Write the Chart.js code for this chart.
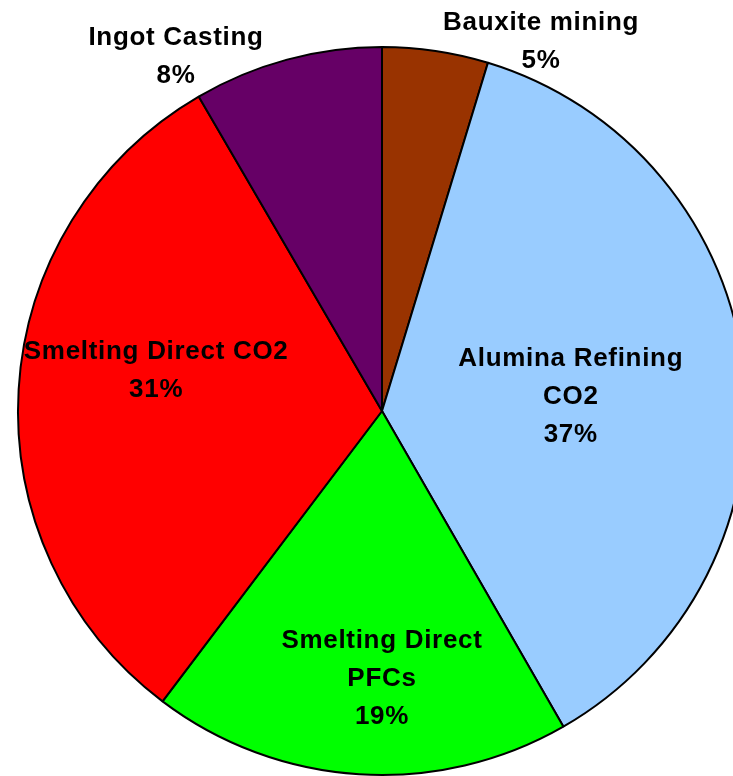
<!DOCTYPE html>
<html>
<head>
<meta charset="utf-8">
<script src="https://cdn.jsdelivr.net/npm/chart.js@4/dist/chart.umd.min.js"></script>
<style>
	html, body { margin: 0; padding: 0; background: #fff; overflow: hidden; width: 733px; height: 776px; }
	#wrap { position: absolute; left: 0; top: 0; width: 764px; height: 822px; }
</style>
</head>
<body>
<div id="wrap"><canvas id="pie"></canvas></div>
<script>
// slices, clockwise from 12 o'clock
const categories	= [ "Bauxite mining", "Alumina Refining\nCO2", "Smelting Direct\nPFCs", "Smelting Direct CO2", "Ingot Casting" ];
const shares		= [ 4.7, 37.0, 18.6, 31.3, 8.4 ];
const colours		= [ "#993300", "#99CCFF", "#00FF00", "#FF0000", "#660066" ];

// where each label sits: angle (deg from top, clockwise) and distance as part of radius
const labelAt	= [
	{ a: 23.3,  r: 1.105 },
	{ a: 85.8,  r: 0.52 },
	{ a: 180.0, r: 0.735 },
	{ a: 280.0, r: 0.63 },
	{ a: 329.8, r: 1.125 }
];

const pieLabels = {
	id: "pieLabels",
	afterDatasetsDraw( chart ) {
		const ctx	= chart.ctx;
		const meta	= chart.getDatasetMeta( 0 );
		const ds	= chart.data.datasets[ 0 ].data;
		const total	= ds.reduce( ( s, v ) => s + v, 0 );

		ctx.save();
		ctx.font			= "bold 26px 'Liberation Sans', Arial, sans-serif";
		ctx.fillStyle		= "#000";
		ctx.textAlign		= "center";
		ctx.textBaseline	= "middle";
		if ( "letterSpacing" in ctx ) ctx.letterSpacing = "0.7px";

		meta.data.forEach( ( arc, i ) => {
			const p		= arc.getProps( [ "x", "y", "outerRadius" ], true );
			const ang	= labelAt[ i ].a * Math.PI / 180;
			const cx	= p.x + Math.sin( ang ) * p.outerRadius * labelAt[ i ].r;
			const cy	= p.y - Math.cos( ang ) * p.outerRadius * labelAt[ i ].r;
			const lines	= chart.data.labels[ i ].split( "\n" );
			lines.push( Math.round( ds[ i ] / total * 100 ) + "%" );

			const lh	= 38;
			const y0	= cy - ( lines.length - 1 ) * lh / 2;
			lines.forEach( ( t, k ) => ctx.fillText( t, cx, y0 + k * lh ) );
		} );
		ctx.restore();
	}
};

new Chart( document.getElementById( "pie" ), {
	type: "pie",
	data: {
		labels: categories,
		datasets: [ {
			data: shares,
			backgroundColor: colours,
			borderColor: "#000",
			borderWidth: 2,
			radius: 364
		} ]
	},
	options: {
		responsive: true,
		maintainAspectRatio: false,
		animation: false,
		layout: { padding: 0 },
		plugins: {
			legend: { display: false },
			tooltip: { enabled: false }
		}
	},
	plugins: [ pieLabels ]
} );
</script>
</body>
</html>
